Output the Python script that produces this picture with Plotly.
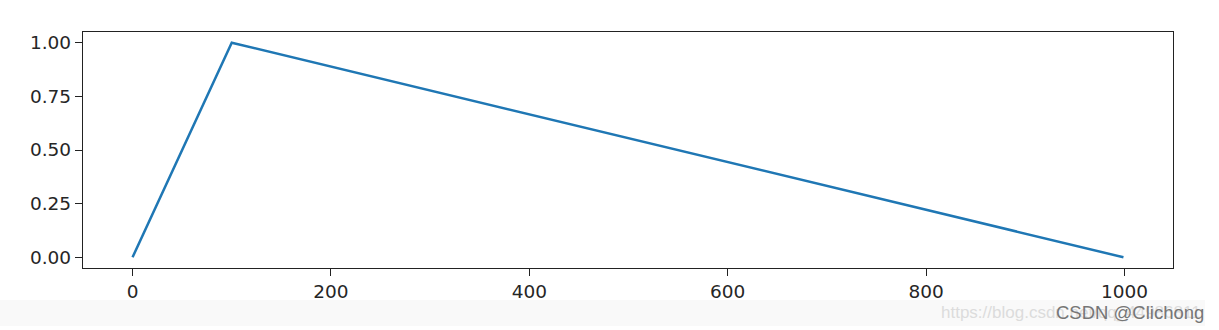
import plotly.graph_objects as go

steps = [0, 100, 999]
lr_values = [0.0, 1.0, 0.0]
x_ticks = [0, 200, 400, 600, 800, 1000]
y_ticks = [0.0, 0.25, 0.5, 0.75, 1.0]
y_tick_labels = ["0.00", "0.25", "0.50", "0.75", "1.00"]

W, H = 1219, 330
L, R, T, B = 83, 1173, 32, 268
pw, ph = R - L, B - T

def px(x):
    return (x - L) / pw

def py(y):
    return (B - y) / ph

fig = go.Figure()
fig.add_trace(go.Scatter(x=steps, y=lr_values, mode="lines",
                         line=dict(color="#1f77b4", width=2.5)))

axis_common = dict(showgrid=False, zeroline=False, showline=True, linecolor="#222",
                   linewidth=1.3, mirror=True, ticks="outside", ticklen=7, tickwidth=1.3,
                   tickcolor="#222", tickfont=dict(family="DejaVu Sans", size=18.5, color="#262626"))

fig.update_layout(
    width=W, height=H, margin=dict(l=L, r=W - R, t=T, b=H - B),
    paper_bgcolor="white", plot_bgcolor="white", showlegend=False,
    xaxis=dict(range=[-49.95, 1048.95], tickvals=x_ticks, **axis_common),
    yaxis=dict(range=[-0.05, 1.05], tickvals=y_ticks, ticktext=y_tick_labels, **axis_common),
)

fig.add_shape(type="rect", xref="paper", yref="paper", x0=px(0), x1=px(1205),
              y0=py(300), y1=py(326), fillcolor="#f9f9f9", line=dict(width=0), layer="below")

fig.add_annotation(xref="paper", yref="paper", x=px(1203), y=py(312), xanchor="right",
                   yanchor="middle", showarrow=False, text="https://blog.csdn.net/qq_44986811",
                   font=dict(family="Liberation Sans", size=17, color="#dcdcdc"))
fig.add_annotation(xref="paper", yref="paper", x=px(1206), y=py(312), xanchor="right",
                   yanchor="middle", showarrow=False, text="CSDN @Clichong",
                   font=dict(family="Liberation Sans", size=18.5, color="#767676"))

fig.write_html("out.html")
